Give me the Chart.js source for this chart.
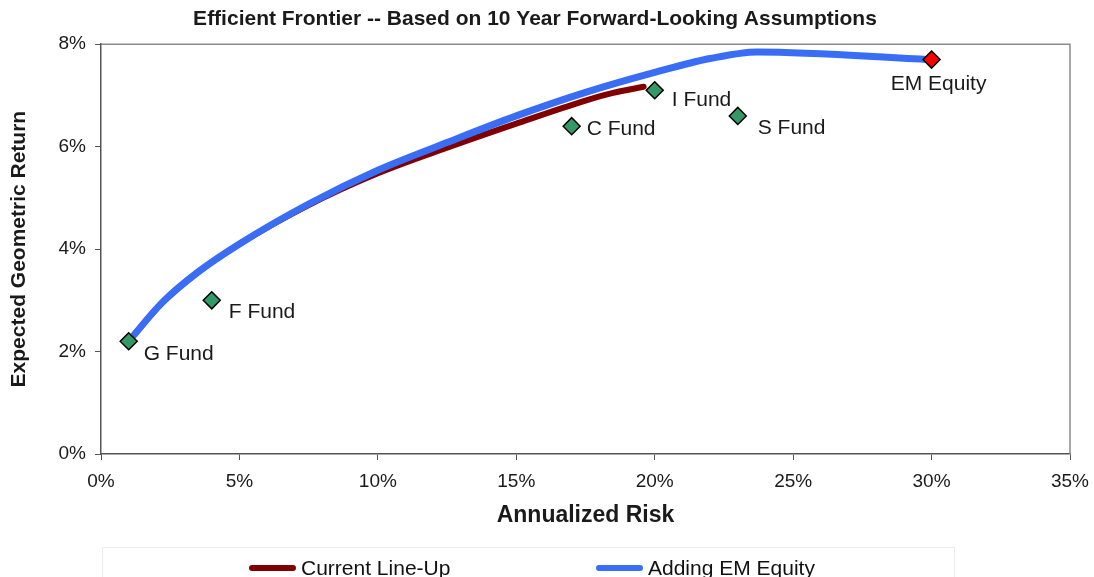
<!DOCTYPE html>
<html>
<head>
<meta charset="utf-8">
<script src="https://cdn.jsdelivr.net/npm/chart.js@4.4.1/dist/chart.umd.min.js"></script>
<style>
  html, body { margin: 0; padding: 0; background: #fff; }
  #wrap { position: relative; width: 1094px; height: 577px; font-family: "Liberation Sans", Arial, sans-serif; }
  #legend { position: absolute; left: 102px; top: 547px; width: 853px; height: 40px; border: 1px solid #ececec; box-sizing: border-box; }
  .item { position: absolute; top: 8px; display: flex; align-items: center; font-size: 21px; color: #111; white-space: nowrap; }
  .swatch { width: 47px; height: 6px; border-radius: 3px; margin-right: 5px; }
</style>
</head>
<body>
<div id="wrap">
  <canvas id="chart" width="1094" height="577"></canvas>
  <div id="legend">
    <div class="item" style="left:146px"><span class="swatch" style="background:#800000"></span>Current Line-Up</div>
    <div class="item" style="left:493px"><span class="swatch" style="background:#3a6df5"></span>Adding EM Equity</div>
  </div>
</div>
<script>
// values, in percent
var fundNames = ["G Fund", "F Fund", "C Fund", "I Fund", "S Fund"];
var fundRisk = [1, 4, 17, 20, 23];
var fundReturn = [2.2, 3.0, 6.4, 7.1, 6.6];

var emNames = ["EM Equity"];
var emRisk = [30];
var emReturn = [7.7];

var currentRisk = [1.0, 2.2, 3.5, 5, 7.5, 10, 12.5, 15, 17.5, 18.5, 19.6];
var currentReturn = [2.2, 2.95, 3.55, 4.1, 4.86, 5.48, 5.98, 6.45, 6.9, 7.05, 7.17];

var addEmRisk = [1.0, 2.2, 3.5, 5, 7.5, 10, 12.5, 15, 17.5, 20, 22, 23.7, 30];
var addEmReturn = [2.2, 2.95, 3.55, 4.1, 4.88, 5.54, 6.08, 6.6, 7.06, 7.45, 7.72, 7.85, 7.7];

var xTicks = [0, 5, 10, 15, 20, 25, 30, 35];
var yTicks = [0, 2, 4, 6, 8];

function toPoints(xs, ys) {
  return xs.map(function (x, i) { return { x: x, y: ys[i] }; });
}

var FONT = "'Liberation Sans', Arial, sans-serif";
var AXIS_COLOR = "#555555";
var TEXT_COLOR = "#1a1a1a";

// label placement relative to each marker, in pixels
var LABEL_STYLE = {
  "G Fund": { dx: 15, dy: 13, align: "left" },
  "F Fund": { dx: 17, dy: 12, align: "left" },
  "C Fund": { dx: 15, dy: 3, align: "left" },
  "I Fund": { dx: 17, dy: 10, align: "left" },
  "S Fund": { dx: 20, dy: 12, align: "left" },
  "EM Equity": { dx: 7, dy: 25, align: "center" },
};

var plotBox = {
  id: "plotBox",
  beforeDatasetsDraw: function (chart) {
    var a = chart.chartArea;
    var ctx = chart.ctx;
    ctx.save();
    ctx.strokeStyle = "#8a8a8a";
    ctx.lineWidth = 1.5;
    ctx.beginPath();
    ctx.moveTo(a.left, a.top);
    ctx.lineTo(a.right, a.top);
    ctx.lineTo(a.right, a.bottom);
    ctx.stroke();
    ctx.restore();
  },
};

var pointLabels = {
  id: "pointLabels",
  afterDatasetsDraw: function (chart) {
    var ctx = chart.ctx;
    ctx.save();
    ctx.font = "21px " + FONT;
    ctx.fillStyle = TEXT_COLOR;
    ctx.textBaseline = "middle";
    chart.data.datasets.forEach(function (ds, di) {
      if (!ds.names) return;
      chart.getDatasetMeta(di).data.forEach(function (pt, i) {
        var name = ds.names[i];
        var st = LABEL_STYLE[name];
        ctx.textAlign = st.align;
        ctx.fillText(name, pt.x + st.dx, pt.y + st.dy);
      });
    });
    ctx.restore();
  },
};

var markerStyle = {
  showLine: false,
  pointStyle: "rectRot",
  pointRadius: 8.5,
  pointHoverRadius: 8.5,
  pointBorderColor: "#000000",
  pointBorderWidth: 1.5,
};

var lineStyle = {
  showLine: true,
  pointRadius: 0,
  pointHoverRadius: 0,
  cubicInterpolationMode: "monotone",
  borderCapStyle: "round",
  borderJoinStyle: "round",
  fill: false,
};

new Chart(document.getElementById("chart"), {
  type: "scatter",
  data: {
    datasets: [
      Object.assign({}, markerStyle, {
        label: "Funds",
        names: fundNames,
        data: toPoints(fundRisk, fundReturn),
        pointBackgroundColor: "#339966",
        order: 0,
      }),
      Object.assign({}, markerStyle, {
        label: "EM Equity",
        names: emNames,
        data: toPoints(emRisk, emReturn),
        pointBackgroundColor: "#ff0000",
        order: 0,
      }),
      Object.assign({}, lineStyle, {
        label: "Adding EM Equity",
        data: toPoints(addEmRisk, addEmReturn),
        borderColor: "#3a6df5",
        borderWidth: 7,
        order: 1,
      }),
      Object.assign({}, lineStyle, {
        label: "Current Line-Up",
        data: toPoints(currentRisk, currentReturn),
        borderColor: "#800000",
        borderWidth: 6,
        order: 2,
      }),
    ],
  },
  options: {
    responsive: false,
    animation: false,
    devicePixelRatio: 1,
    layout: { padding: { left: 0, right: 24, top: 0, bottom: 44 } },
    plugins: {
      legend: { display: false },
      tooltip: { enabled: false },
      title: {
        display: true,
        text: "Efficient Frontier -- Based on 10 Year Forward-Looking Assumptions",
        color: TEXT_COLOR,
        font: { family: FONT, size: 21, weight: "bold" },
        padding: { top: 7, bottom: 12 },
      },
    },
    scales: {
      x: {
        type: "linear",
        min: 0,
        max: 35,
        afterBuildTicks: function (s) { s.ticks = xTicks.map(function (v) { return { value: v }; }); },
        afterFit: function (s) { s.height = 79; s.paddingLeft = 0; s.paddingRight = 0; },
        ticks: {
          padding: 10,
          color: TEXT_COLOR,
          font: { family: FONT, size: 19 },
          callback: function (v) { return v + "%"; },
        },
        grid: { drawOnChartArea: false, drawTicks: true, tickLength: 6, tickColor: AXIS_COLOR },
        border: { color: AXIS_COLOR, width: 1.5 },
        title: {
          display: true,
          text: "Annualized Risk",
          color: TEXT_COLOR,
          font: { family: FONT, size: 23, weight: "bold" },
          padding: { top: 0, bottom: 4 },
        },
      },
      y: {
        type: "linear",
        min: 0,
        max: 8,
        afterBuildTicks: function (s) { s.ticks = yTicks.map(function (v) { return { value: v }; }); },
        afterFit: function (s) { s.width = 101; },
        ticks: {
          padding: 9,
          color: TEXT_COLOR,
          font: { family: FONT, size: 19 },
          callback: function (v) { return v + "%"; },
        },
        grid: { drawOnChartArea: false, drawTicks: true, tickLength: 6, tickColor: AXIS_COLOR },
        border: { color: AXIS_COLOR, width: 1.5 },
        title: {
          display: true,
          text: "Expected Geometric Return",
          color: TEXT_COLOR,
          font: { family: FONT, size: 21, weight: "bold" },
          padding: { top: 7, bottom: 0 },
        },
      },
    },
  },
  plugins: [plotBox, pointLabels],
});
</script>
</body>
</html>
